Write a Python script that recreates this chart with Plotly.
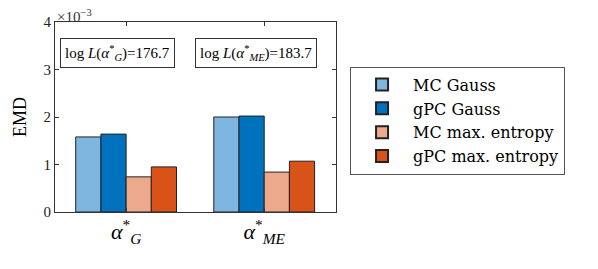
import plotly.graph_objects as go

categories = ["G", "ME"]
tick_labels = ["<i>α</i><sup>*</sup><sub><i>G</i></sub>", "<i>α</i><sup>*</sup><sub><i>ME</i></sub>"]
series_names = ["MC Gauss", "gPC Gauss", "MC max. entropy", "gPC max. entropy"]
mc_gauss = [1.58, 2.00]
gpc_gauss = [1.64, 2.02]
mc_maxent = [0.74, 0.84]
gpc_maxent = [0.95, 1.07]
colors = ["#7EB6DF", "#0072BD", "#EDA98C", "#D95319"]
loglik_labels = ["log <i>L</i>(<i>α</i><sup>*</sup><sub><i>G</i></sub>)=176.7",
                 "log <i>L</i>(<i>α</i><sup>*</sup><sub><i>ME</i></sub>)=183.7"]

FONT = "Liberation Serif"
fig = go.Figure()
xs = [0, 1]
for name, vals, c in zip(series_names, [mc_gauss, gpc_gauss, mc_maxent, gpc_maxent], colors):
    fig.add_trace(go.Bar(x=xs, y=vals, name=name, marker=dict(color=c, line=dict(color="#222222", width=1))))

for i, t in enumerate(loglik_labels):
    fig.add_annotation(x=xs[i] - 0.06, y=3.34, text=t, showarrow=False,
                       font=dict(family=FONT, size=15, color="black"),
                       bordercolor="#333333", borderwidth=1, borderpad=4, bgcolor="white")

fig.add_annotation(xref="paper", yref="paper", x=0.0, y=1.0, xanchor="left", yanchor="bottom", yshift=-5,
                   text="×10<sup>−3</sup>", showarrow=False, font=dict(family=FONT, size=15, color="#333"))

fig.update_layout(
    width=598, height=269,
    margin=dict(l=47, r=270, t=14, b=65, autoexpand=False),
    barmode="group", bargap=0.27, bargroupgap=0,
    plot_bgcolor="white", paper_bgcolor="white",
    font=dict(family=FONT, color="#222"),
    showlegend=True,
    legend=dict(x=1.05, y=0.765, xanchor="left", yanchor="top", itemwidth=52,
                bordercolor="#555", borderwidth=1, font=dict(family="DejaVu Serif", size=16, color="black"),
                tracegroupgap=0, itemsizing="constant"),
    xaxis=dict(range=[-0.515, 1.52], tickvals=xs, ticktext=tick_labels, showline=True, mirror="ticks",
               linecolor="#333", linewidth=1, ticks="inside", ticklen=4, tickcolor="#333", automargin=False,
               tickfont=dict(family=FONT, size=22, color="black"), showgrid=False),
    yaxis=dict(range=[0, 4], tickvals=[0, 1, 2, 3, 4], showline=True, mirror="ticks", automargin=False,
               linecolor="#333", linewidth=1, ticks="inside", ticklen=4, tickcolor="#333",
               tickfont=dict(family=FONT, size=15, color="#222"), showgrid=False, zeroline=False,
               title=dict(text="EMD", font=dict(family=FONT, size=18, color="black"), standoff=12)),
)
fig.write_html("out.html")
